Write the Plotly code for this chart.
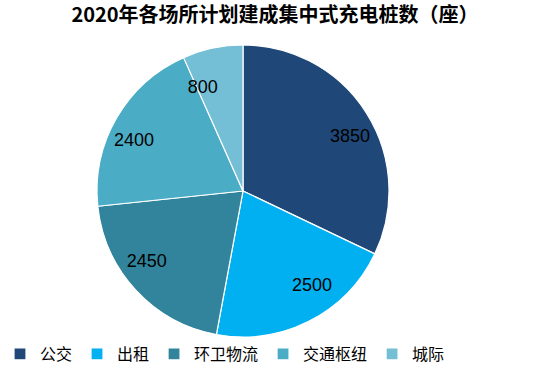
import plotly.graph_objects as go

categories = ["公交", "出租", "环卫物流", "交通枢纽", "城际"]
values = [3850, 2500, 2450, 2400, 800]
colors = ["#1F4778", "#00B0F0", "#31849B", "#4BACC6", "#75BFD6"]
title_text = "2020年各场所计划建成集中式充电桩数（座）"

W, H = 550, 366
cx, cy, R = 243, 191, 146
R_LABEL = 97  # radius of transparent helper pie used to place value labels


def dom(r):
    return dict(x=[(cx - r) / W, (cx + r) / W], y=[1 - (cy + r) / H, 1 - (cy - r) / H])


fig = go.Figure()
fig.add_trace(go.Pie(
    labels=categories,
    values=values,
    sort=False,
    direction="clockwise",
    rotation=0,
    marker=dict(colors=colors, line=dict(color="white", width=1.2)),
    textinfo="none",
    hoverinfo="label+value",
    domain=dom(R),
))
fig.add_trace(go.Pie(
    labels=categories,
    values=values,
    sort=False,
    direction="clockwise",
    rotation=0,
    marker=dict(colors=["rgba(0,0,0,0)"] * len(values), line=dict(width=0)),
    textinfo="value",
    textposition="outside",
    textfont=dict(family="Arial, Liberation Sans", size=18, color="#000000"),
    hoverinfo="skip",
    showlegend=False,
    automargin=False,
    domain=dom(R_LABEL),
))

fig.update_layout(
    width=W, height=H,
    margin=dict(l=0, r=0, t=0, b=0, autoexpand=False),
    paper_bgcolor="white",
    plot_bgcolor="white",
    title=dict(text="<b>" + title_text + "</b>", x=0.5, xanchor="center",
               y=1 - 15 / H, yanchor="middle",
               font=dict(family="Noto Sans CJK SC", size=20, color="#000000")),
    legend=dict(orientation="h", x=0.0, xanchor="left", y=1 - 354 / H, yanchor="middle",
                font=dict(family="Noto Sans CJK SC", size=16, color="#000000"),
                traceorder="normal", itemwidth=30),
    showlegend=True,
)

fig.write_html("out.html")
